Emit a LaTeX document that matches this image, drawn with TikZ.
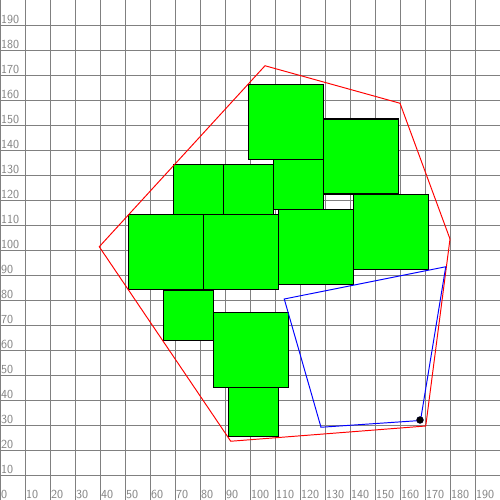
\documentclass[tikz,border=0pt]{standalone}
\usepackage{tikz}
\usetikzlibrary{positioning}
\definecolor{gridgray}{HTML}{808080}
\definecolor{blockgreen}{HTML}{00FF00}
\tikzset{
  gridline/.style={draw=gridgray, line width=1.1pt},
  ticklabel/.style={font=\sffamily\fontsize{14}{14}\selectfont, text=gridgray, inner sep=0pt, anchor=south west},
  block/.style={fill=blockgreen, draw=black, line width=1.6pt},
  hull/.style={draw=red, line width=1.1pt},
  route/.style={draw=blue, line width=1.1pt},
  goal/.style={circle, fill=black, draw=black!80!blue, inner sep=0pt, minimum size=2.8mm}
}

\begin{document}
\begin{tikzpicture}[x=1mm, y=1mm]
      \useasboundingbox (0,0) rectangle (200,200);
      % grid and axis numbers
      \foreach \v in {0,10,...,190} {
        \draw[gridline] (\v,0) -- (\v,200);
        \draw[gridline] (0,\v) -- (200,\v);
        \node[ticklabel] (xl\v) at (\v+0.4,0.4) {\v};
      }
      \foreach \v in {10,20,...,190}
        \node[ticklabel] (yl\v) at (0.4,\v+0.5) {\v};
      % blocks: lower left corner / side
      \foreach \bx/\by/\bs in {99.3/136.3/30, 129.3/122.4/30, 69.3/114.3/20,
                               89.3/114.3/20, 109.3/116.3/20, 141.3/92.3/30,
                               51.3/84.3/30, 81.3/84.3/30, 111.3/86.3/30,
                               65.3/63.9/20, 91.3/25.3/20, 85.3/45.1/30}
        \draw[block] (\bx,\by) rectangle ++(\bs,\bs);
      % hull
      \coordinate (h1) at (106,173.7);
      \coordinate (h2) at (160,158.7);
      \coordinate (h3) at (180,104.4);
      \coordinate (h4) at (170.3,29.6);
      \coordinate (h5) at (92.3,23.5);
      \coordinate (h6) at (39.7,101.3);
      \draw[hull] (h1) -- (h2) -- (h3) -- (h4) -- (h5) -- (h6) -- cycle;
      % route
      \coordinate (r1) at (113.7,80.4);
      \coordinate (r2) at (178.3,93.3);
      \coordinate (r3) at (168.2,31.8);
      \coordinate (r4) at (128.4,29.1);
      \draw[route] (r1) -- (r2) -- (r3) -- (r4) -- cycle;
      \node[goal] (dot) at (168,32) {};
    \end{tikzpicture}
\end{document}
